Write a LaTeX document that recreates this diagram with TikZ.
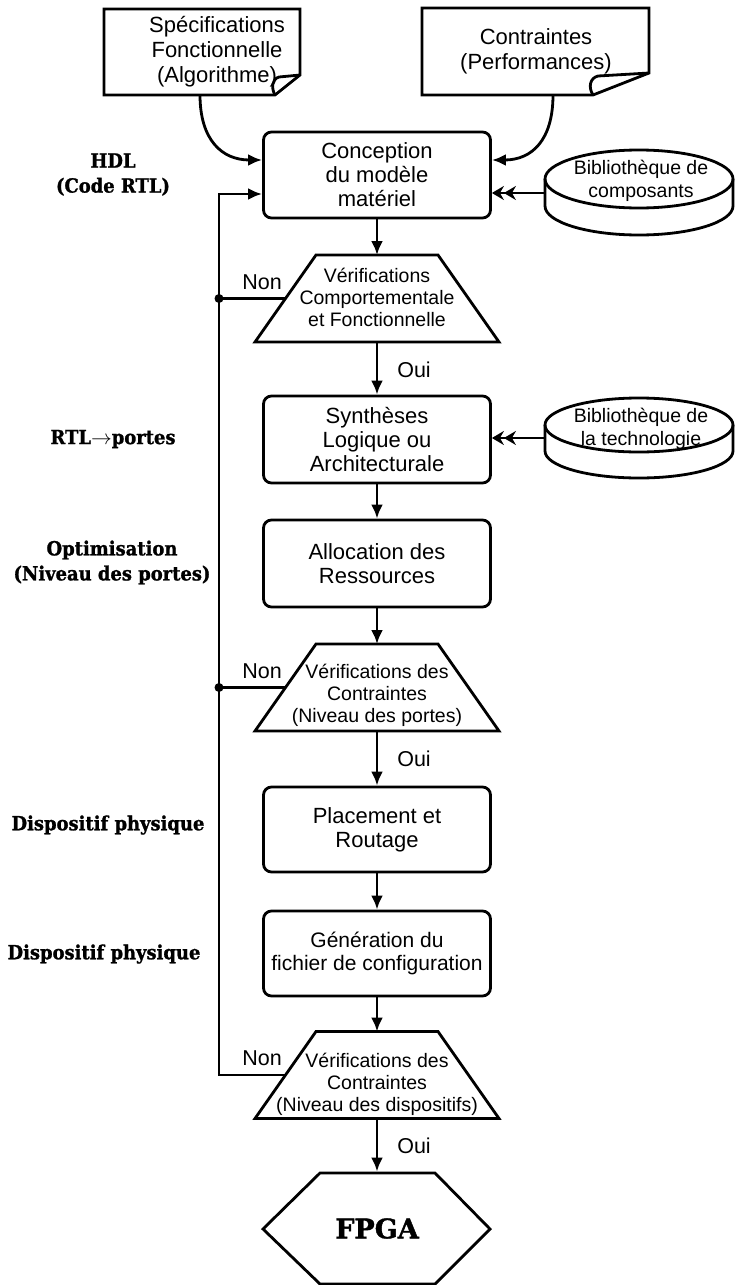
\documentclass[tikz,border=0pt]{standalone}
\usepackage{fontspec}
\setmainfont{Liberation Sans}
\newfontfamily\slabfont{DejaVu Serif}[FakeStretch=0.92,BoldFeatures={FakeBold=1.2}]
\newfontfamily\titlefont{DejaVu Serif}[BoldFeatures={FakeBold=1.5}]
\usetikzlibrary{arrows.meta,calc}

% trapezoid used for the verification steps, with named ports
\tikzset{
  checkshape/.pic={
    \draw (-61,-43.5) -- (61,-43.5) -- (122,43.5) -- (-122,43.5) -- cycle;
    \coordinate (-n) at (0,-43.5);
    \coordinate (-s) at (0,43.5);
    \coordinate (-w) at (-91.5,0);
  },
}

\begin{document}
\begin{tikzpicture}[x=1pt,y=-1pt,line width=2.8pt,
  flow/.style={-{Latex[length=14pt,width=12pt]}},
  libflow/.style={-{Stealth[length=12pt,width=14pt,inset=4pt]Stealth[length=12pt,width=14pt,inset=4pt]}},
  stepbox/.style={draw,rounded corners=8pt,minimum width=227pt,inner sep=0pt,align=center,font=\fontsize{22}{24}\selectfont},
  doctext/.style={align=center,inner sep=0pt,font=\fontsize{22}{25}\selectfont},
  checktext/.style={align=center,inner sep=0pt,font=\fontsize{19.5}{22}\selectfont},
  libtext/.style={align=center,inner sep=0pt,font=\fontsize{19.5}{23}\selectfont},
  answer/.style={inner sep=0pt,font=\fontsize{21.5}{24}\selectfont},
  stage/.style={align=center,inner sep=0pt,font=\slabfont\bfseries\fontsize{19.5}{25}\selectfont},
  junction/.style={circle,fill,inner sep=0pt,minimum size=9pt},
]
\useasboundingbox (0,0) rectangle (734,1285);

% input documents with folded corner
\draw (104,9) -- (300,9) -- (300,75) -- (275,95) -- (104,95) -- cycle;
\draw (275,95) .. controls (271,88) and (272,79) .. (279,77) -- (300,75);
\node[doctext] (spec) at (217,52) {Spécifications\\Fonctionnelle\\(Algorithme)};
\coordinate (specout) at (200,95);

\draw (422,8) -- (649,8) -- (649,73) -- (593,95) -- (422,95) -- cycle;
\draw (593,95) .. controls (588,87) and (590,78) .. (598,76) -- (649,73);
\node[doctext] (perf) at (536,51) {Contraintes\\(Performances)};
\coordinate (perfout) at (553,95);

% libraries (cylinders)
\draw (545,179) -- (545,206) arc[start angle=180,end angle=0,x radius=94,y radius=29] -- (733,179);
\draw (639,179) ellipse [x radius=94,y radius=29];
\node[libtext] (lib1) at (641,181) {Bibliothèque de\\composants};
\coordinate (lib1port) at (545,193);

\draw (545,425) -- (545,451) arc[start angle=180,end angle=0,x radius=94,y radius=27] -- (733,425);
\draw (639,425) ellipse [x radius=94,y radius=27];
\node[libtext] (lib2) at (641,429) {Bibliothèque de\\la technologie};
\coordinate (lib2port) at (545,438);

% process steps
\node[stepbox,minimum height=86pt] (conc) at (377,175) {Conception\\du modèle\\matériel};
\node[stepbox,minimum height=87pt] (synth) at (377,439.5) {Synthèses\\Logique ou\\Architecturale};
\node[stepbox,minimum height=87pt] (alloc) at (377,563.5) {Allocation des\\Ressources};
\node[stepbox,minimum height=85pt] (place) at (377,829.5) {Placement et\\Routage};
\node[stepbox,minimum height=85pt,font=\fontsize{21}{22.6}\selectfont] (gen) at (377,953.5) {Génération du\\fichier de configuration};

% verification steps
\pic (t1) at (377,298.5) {checkshape};
\node[checktext] (v1) at (377,297.5) {Vérifications\\Comportementale\\et Fonctionnelle};
\pic (t2) at (377,687.5) {checkshape};
\node[checktext] (v2) at (377,695) {Vérifications des\\Contraintes\\(Niveau des portes)};
\pic (t3) at (377,1075) {checkshape};
\node[checktext] (v3) at (377,1084) {Vérifications des\\Contraintes\\(Niveau des dispositifs)};

% target
\draw (320,1173) -- (435,1173) -- (490,1229) -- (435,1284) -- (320,1284) -- (263,1229) -- cycle;
\node[font=\titlefont\bfseries\fontsize{27}{30}\selectfont,minimum height=111pt,inner sep=0pt] (fpga) at (377,1228.5) {FPGA};

% connectors
\draw[flow] (specout) .. controls (200,140) and (222,160) .. ($(conc.west)+(0,-15)$);
\draw[flow] (perfout) .. controls (553,140) and (532,160) .. ($(conc.east)+(0,-15)$);
\draw[libflow] (lib1port) -- (lib1port -| conc.east);
\draw[libflow] (lib2port) -- (lib2port -| synth.east);

\draw[flow] (conc.south) -- (t1-n);
\draw[flow] (t1-s) -- (synth.north);
\draw[flow] (synth.south) -- (alloc.north);
\draw[flow] (alloc.south) -- (t2-n);
\draw[flow] (t2-s) -- (place.north);
\draw[flow] (place.south) -- (gen.north);
\draw[flow] (gen.south) -- (t3-n);
\draw[flow] (t3-s) -- (fpga.north);

% feedback loop
\coordinate (loop) at (219,194);
\draw[flow] (t3-w) -| (loop) -- ($(conc.west)+(0,19)$);
\draw (t1-w) -- (t1-w -| loop);
\node[junction] (j1) at (t1-w -| loop) {};
\draw (t2-w) -- (t2-w -| loop);
\node[junction] (j2) at (t2-w -| loop) {};

% decisions
\node[answer] (no1) at (262,282) {Non};
\node[answer] (no2) at (262,671) {Non};
\node[answer] (no3) at (262,1058) {Non};
\node[answer] (yes1) at (414,370) {Oui};
\node[answer] (yes2) at (414,759) {Oui};
\node[answer] (yes3) at (414,1146) {Oui};

% abstraction levels
\node[stage] (hdl) at (113,174.5) {HDL\\(Code RTL)};
\node[stage] (rtl) at (113,439) {RTL$\rightarrow$portes};
\node[stage] (opt) at (112,562.5) {Optimisation\\(Niveau des portes)};
\node[stage] (phys1) at (108,825) {Dispositif physique};
\node[stage] (phys2) at (104,954) {Dispositif physique};
\end{tikzpicture}
\end{document}
